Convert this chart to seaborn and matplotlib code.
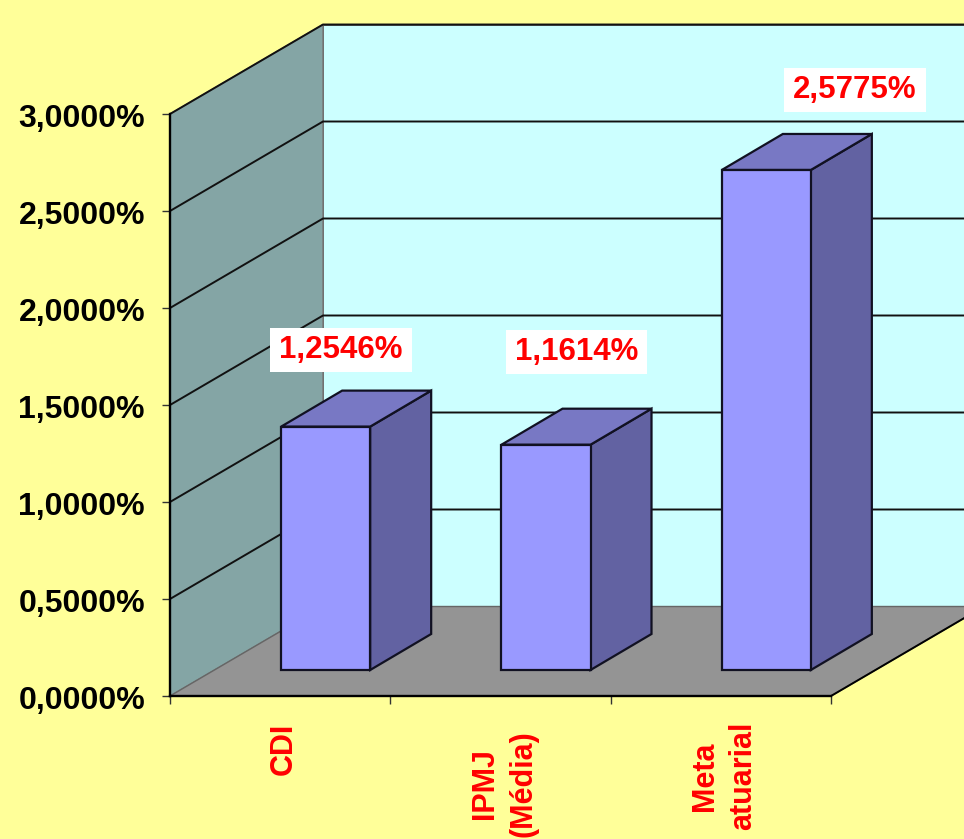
import pandas as pd
import seaborn as sns
import matplotlib.pyplot as plt
from matplotlib.patches import Polygon, Rectangle
from matplotlib.transforms import IdentityTransform, ScaledTranslation

categories = ["CDI", "IPMJ\n(Média)", "Meta\natuarial"]
values = [1.2546, 1.1614, 2.5775]
y_ticks = [0.0, 0.5, 1.0, 1.5, 2.0, 2.5, 3.0]

# Pixel offsets of each value label from the top of its bar
label_offsets = [(15.5, 77), (30.5, 93), (88.5, 79.5)]

sns.set_theme(style="white")
plt.rcParams["font.family"] = ["Liberation Sans", "DejaVu Sans"]
plt.rcParams["font.weight"] = "bold"

fig = plt.figure(figsize=(9.64, 8.39), dpi=100, facecolor="#FFFF99")
ax = fig.add_axes([170 / 964, (839 - 696) / 839, 661 / 964, 582 / 839])
ax.patch.set_alpha(0)

df = pd.DataFrame({"categoria": categories, "valor": values})
sns.barplot(data=df, x="categoria", y="valor", color="#9999FF", saturation=1, width=0.404, ax=ax, zorder=3)

ax.set_xlim(-0.5, 2.5)
ax.set_ylim(0, 3)
ax.set_xlabel("")
ax.set_ylabel("")

# Size of one data unit in pixels, used for the fake 3D depth
px_x = 661 / 3
px_y = 582 / 3
wall_dx, wall_dy = 153 / px_x, 89.5 / px_y
bar_dx, bar_dy = 61 / px_x, 36 / px_y
shift_x, shift_y = 45.5 / px_x, 26 / px_y


def face(points, color, edge, lw, zorder):
    ax.add_patch(Polygon(points, closed=True, facecolor=color, edgecolor=edge, linewidth=lw, zorder=zorder, clip_on=False))


# Walls and floor
face([(-0.5 + wall_dx, wall_dy), (2.5 + wall_dx, wall_dy), (2.5 + wall_dx, 3 + wall_dy), (-0.5 + wall_dx, 3 + wall_dy)],
     "#CCFFFF", "#555555", 1.3, 0.5)
face([(-0.5, 0), (-0.5 + wall_dx, wall_dy), (-0.5 + wall_dx, 3 + wall_dy), (-0.5, 3)],
     "#84A5A5", "#777777", 1.0, 0.6)
face([(-0.5, 0), (2.5, 0), (2.5 + wall_dx, wall_dy), (-0.5 + wall_dx, wall_dy)],
     "#949494", "#666666", 1.0, 0.7)
ax.plot([2.5, 2.5 + wall_dx], [0, wall_dy], color="black", lw=1.4, zorder=0.8, clip_on=False)

# Gridlines run along the side wall and then the back wall
for t in y_ticks[1:]:
    ax.plot([-0.5, -0.5 + wall_dx, 2.5 + wall_dx], [t, t + wall_dy, t + wall_dy], color="#111111", lw=1.4, zorder=1, clip_on=False)

# Move the seaborn bars to the middle of the floor and add side and top faces
labels = []
for i, bar in enumerate(ax.patches[:3]):
    bar.set_x(bar.get_x() + shift_x)
    bar.set_y(bar.get_y() + shift_y)
    bar.set_edgecolor("#111122")
    bar.set_linewidth(1.6)
    bar.set_clip_on(False)
    x0 = bar.get_x()
    x1 = x0 + bar.get_width()
    y0 = bar.get_y()
    y1 = y0 + bar.get_height()
    face([(x1, y0), (x1 + bar_dx, y0 + bar_dy), (x1 + bar_dx, y1 + bar_dy), (x1, y1)], "#6262A2", "#111122", 1.6, 2.9)
    face([(x0, y1), (x1, y1), (x1 + bar_dx, y1 + bar_dy), (x0 + bar_dx, y1 + bar_dy)], "#7878C4", "#111122", 1.6, 2.9)
    labels.append(ax.annotate(
        f"{values[i]:.4f}%".replace(".", ","),
        xy=((x0 + x1) / 2, y1),
        xytext=label_offsets[i],
        textcoords="offset pixels",
        ha="center",
        va="center",
        color="red",
        fontsize=22.5,
        fontweight="bold",
        annotation_clip=False,
        zorder=5,
    ))

# Axis ticks
ax.set_yticks(y_ticks)
ax.set_yticklabels([f"{t:.4f}%".replace(".", ",") for t in y_ticks], fontsize=23, fontweight="bold", color="black")
ax.tick_params(axis="y", which="major", left=True, length=6, width=1, color="#333333", pad=12)
for lab in ax.get_yticklabels():
    lab.set_transform(lab.get_transform() + ScaledTranslation(0, -1.5 / 100, fig.dpi_scale_trans))

ax.set_xticks([-0.5, 0.5, 1.5, 2.5])
ax.set_xticklabels([])
ax.set_xticks([i + 3.5 / px_x for i in range(3)], minor=True)
ax.set_xticklabels(categories, minor=True, rotation=90, color="red", fontsize=22, fontweight="bold",
                   va="top", ha="center", multialignment="center", linespacing=1.35)
ax.tick_params(axis="x", which="major", bottom=True, length=6, width=1, color="#333333")
ax.tick_params(axis="x", which="minor", bottom=False, length=0, pad=19.5)
ax.xaxis.get_minor_ticks()[1].set_pad(24.5)
ax.xaxis.get_minor_ticks()[2].set_pad(18.5)

for side in ["top", "right"]:
    ax.spines[side].set_visible(False)
for side in ["left", "bottom"]:
    ax.spines[side].set_color("black")
    ax.spines[side].set_linewidth(1.7)
    ax.spines[side].set_zorder(2)

# White boxes behind the value labels, sized from the drawn text
fig.canvas.draw()
for lab in labels:
    ext = lab.get_window_extent()
    ax.add_patch(Rectangle((ext.x0 - 9, ext.y0 - 7), ext.width + 18, ext.height + 14, transform=IdentityTransform(),
                           facecolor="white", edgecolor="none", zorder=4.5, clip_on=False))

fig.savefig("out.png", dpi=100, facecolor=fig.get_facecolor())
